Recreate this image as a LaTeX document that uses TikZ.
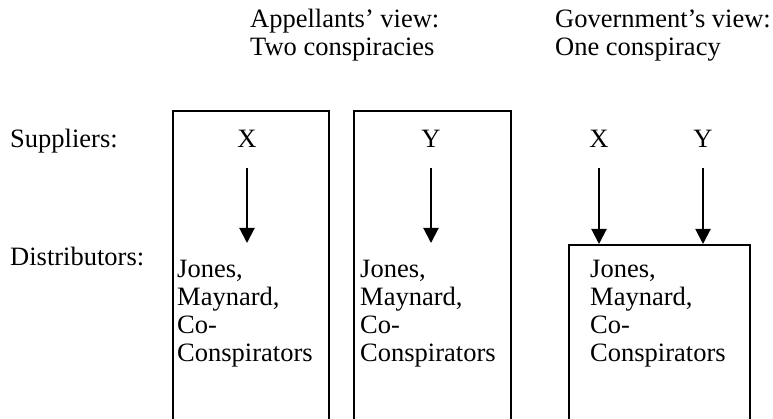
\documentclass[tikz,border=0pt]{standalone}
\usepackage{fontspec}
\setmainfont{Liberation Serif}
\usetikzlibrary{arrows.meta,positioning}
\tikzset{
  viewbox/.style={
    rectangle, draw, line width=1.6pt, anchor=north west, inner sep=0pt
  },
  party/.style={
    font=\fontsize{26.5}{28}\selectfont, inner sep=0pt,
    anchor=base west, align=left
  },
  supplier/.style={font=\fontsize{26.5}{28}\selectfont, inner sep=0pt, anchor=base},
  flow/.style={-{Triangle[length=15pt,width=15pt]}, line width=2pt, shorten <=20pt},
}

\begin{document}
\begin{tikzpicture}[x=1pt,y=-1pt]
  \useasboundingbox (0,0) rectangle (773,419);
  \clip (0,0) rectangle (773,419);

  % Headings (base = last line)
  \node[party] (appview) at (250,56) {Appellants' view:\\Two conspiracies};
  \node[party] (govview) at (555,56) {Government's view:\\One conspiracy};

  % Row labels
  \node[party] (supp) at (10,148) {Suppliers:};
  \node[party] (dist) at (10,266) {Distributors:};

  % Boxes (open at the bottom edge)
  \node[viewbox, minimum width=156pt, minimum height=340pt] (appbox1) at (172,110) {};
  \node[viewbox, minimum width=157pt, minimum height=340pt] (appbox2) at (353,110) {};
  \node[viewbox, minimum width=181pt, minimum height=200pt] (govbox) at (568,244) {};

  % Suppliers
  \node[supplier] (x1) at (247,148) {X};
  \node[supplier] (y1) at (431,148) {Y};
  \node[supplier] (x2) at (599,148) {X};
  \node[supplier] (y2) at (703,148) {Y};

  % Distributors (base = last line)
  \node[party] (jones1) at (177,361) {Jones,\\Maynard,\\Co-\\Conspirators};
  \node[party] (jones2) at (360,361) {Jones,\\Maynard,\\Co-\\Conspirators};
  \node[party] (jones3) at (590,361) {Jones,\\Maynard,\\Co-\\Conspirators};

  % Arrows
  \coordinate (tip1) at (247,243);
  \coordinate (tip2) at (431,243);
  \draw[flow] (x1.south) -- (tip1);
  \draw[flow] (y1.south) -- (tip2);
  \draw[flow] (x2.south) -- (x2.south |- govbox.north);
  \draw[flow] (y2.south) -- (y2.south |- govbox.north);
\end{tikzpicture}
\end{document}
